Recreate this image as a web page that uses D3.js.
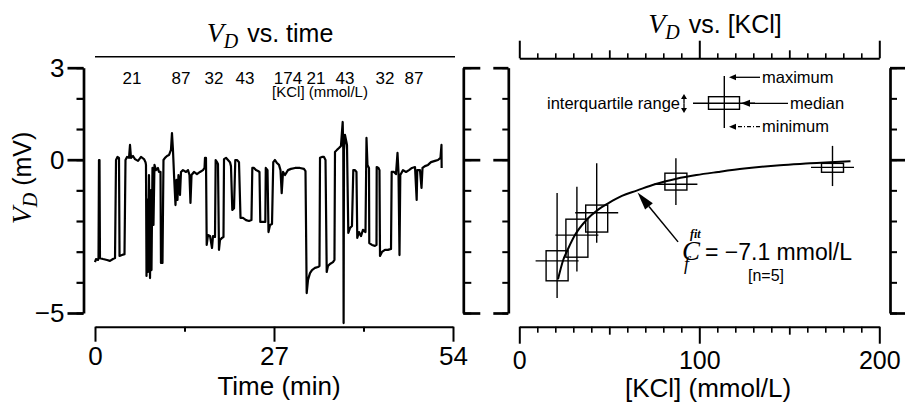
<!DOCTYPE html>
<html><head><meta charset="utf-8">
<script src="https://cdn.jsdelivr.net/npm/d3@7"></script>
<style>
body{margin:0;background:#fff;}
svg{display:block;}
text{font-family:"Liberation Sans",Arial,Helvetica,sans-serif;fill:#000;}
.it{font-family:"Liberation Serif","Times New Roman",serif;font-style:italic;}
</style></head><body>
<svg id="c" width="905" height="405"></svg>
<script>
// ---------- data ----------
const timeTicks = [0, 27, 54];
const timeMinor = [13.5, 40.5];
const vTicks = [3, 0, -5];
const vMinor = [3, 2, 1, 0, -1, -2, -3, -4, -5];
const kclTicks = [0, 100, 200];
const kclMid = [50, 150];
const kclMinor = [10,20,30,40,60,70,80,90,110,120,130,140,160,170,180,190];

const segTimes  = [5.58, 12.97, 17.95, 22.62, 29.11, 33.33, 37.71, 43.74, 48.11];
const segLabels = ["21", "87", "32", "43", "174", "21", "43", "32", "87"];

// V_D trace: [time (min), V_D (mV)]
const trace = [
[0,-3.34],[0.15,-3.24],[0.45,-3.27],[0.53,-3.21],[0.60,-0.01],[0.68,-0.01],[0.75,-3.21],[1.21,-3.24],[1.81,-3.27],[2.26,-3.30],[2.71,-3.24],[3.02,-3.21],
[3.17,-0.01],[3.39,0.09],[3.62,0.06],[3.70,-3.14],[4.07,-3.11],[4.45,-3.08],[4.60,-0.01],[4.83,0.09],[5.13,0.06],[5.28,0.48],[5.43,0.06],[5.73,0.12],
[6.03,0.02],[6.49,-0.04],[6.94,0.09],[7.39,0.02],[7.62,-0.08],[7.69,-0.17],[7.77,-3.79],[7.92,-1.31],[7.99,-3.66],[8.14,-0.50],[8.30,-3.86],[8.45,-0.99],
[8.52,-3.60],[8.67,-0.27],[8.82,-2.13],[8.97,-0.17],[9.20,-0.34],[9.50,-0.27],[9.65,-0.40],[9.88,-0.40],[9.95,-3.37],[10.11,-2.62],[10.18,-3.37],[10.33,-0.01],
[10.56,0.06],[10.86,0.12],[11.16,0.15],[11.46,0.32],[11.61,0.87],[11.76,0.32],[11.92,-0.50],[12.14,-1.48],[12.29,-0.66],[12.44,-1.31],[12.59,-0.50],[12.82,-1.15],
[12.97,-0.40],[13.27,-0.34],[13.73,-0.40],[14.03,-0.34],[14.25,-0.50],[14.40,-1.41],[14.56,-0.50],[14.93,-0.40],[15.38,-0.47],[15.84,-0.40],[16.29,-0.34],[16.52,-0.27],
[16.59,0.06],[16.74,0.06],[16.85,-2.78],[17.04,-2.46],[17.35,-2.49],[17.65,-2.88],[17.80,-2.49],[18.10,-2.52],[18.20,-0.01],[18.40,-0.08],[18.55,-0.14],[18.70,-2.94],
[18.85,-2.62],[19.16,-2.55],[19.38,-2.52],[19.46,0.02],[19.76,0.06],[20.06,-0.01],[20.36,-0.08],[20.51,-0.21],[20.71,-1.64],[20.97,-1.58],[21.16,-0.01],[21.42,-0.01],
[21.72,-0.08],[21.95,-1.90],[22.32,-1.90],[22.78,-1.97],[23.23,-2.00],[23.60,-1.97],[23.73,-0.27],[23.98,-0.27],[24.28,-0.34],[24.59,-0.37],[24.81,-0.40],[24.93,-2.03],
[25.34,-2.03],[25.69,-2.03],[25.76,-0.27],[26.02,-0.34],[26.17,-2.36],[26.40,-2.13],[26.70,-2.10],[26.89,-0.08],[27.15,-0.01],[27.45,-0.11],[27.75,-0.17],[27.98,-0.34],
[28.16,-1.09],[28.36,-0.40],[28.66,-0.50],[29.11,-0.34],[29.56,-0.30],[30.17,-0.27],[30.92,-0.27],[31.52,-0.30],[31.75,-0.37],[31.93,-4.35],[32.13,-3.92],[32.43,-3.70],
[32.73,-3.60],[33.18,-3.53],[33.63,-3.50],[33.86,-3.47],[33.94,0.06],[34.24,0.09],[34.54,0.09],[34.77,-0.01],[34.95,-3.66],[35.14,-3.47],[35.44,-3.40],[35.90,-3.34],
[36.12,-3.27],[36.20,0.25],[36.50,0.32],[36.80,0.38],[37.10,0.45],[37.36,1.23],[37.45,0.32],[37.50,-5.33],[37.56,0.32],[37.71,0.81],[37.86,0.64],[38.01,0.48],
[38.21,-2.39],[38.46,-2.23],[38.76,-2.16],[38.96,-0.34],[39.22,-0.34],[39.44,-0.40],[39.56,-2.55],[39.82,-2.36],[40.12,-2.49],[40.42,-2.29],[40.80,-2.36],[40.95,0.71],
[41.10,-0.17],[41.33,-0.27],[41.37,-2.72],[41.78,-2.78],[42.23,-2.81],[42.46,-2.78],[42.49,-0.24],[42.76,-0.27],[42.91,-0.34],[42.99,-3.14],[43.29,-3.01],[43.74,-2.94],
[44.19,-2.94],[44.65,-2.91],[44.75,-0.40],[45.10,-0.40],[45.40,-0.47],[45.63,0.22],[45.78,-0.40],[45.93,-3.11],[46.05,-0.50],[46.46,-0.34],[46.91,-0.40],[47.36,-0.34],
[47.81,-0.27],[48.27,-0.24],[48.52,-1.31],[48.61,-0.34],[49.02,-0.34],[49.25,-0.92],[49.40,-0.27],[49.77,-0.21],[50.23,-0.17],[50.68,-0.08],[51.28,-0.04],[51.73,-0.01],
[52.11,0.06],[52.26,0.48],[52.29,-0.27]
];

// box plots vs [KCl]
const boxKCl    = [21, 32, 43, 87, 174];
const boxMax    = [-1.09, -0.88, -0.12, 0.05, 0.45];
const boxQ3     = [-2.97, -1.94, -1.48, -0.44, -0.12];
const boxMedian = [-3.30, -2.46, -1.73, -0.80, -0.25];
const boxQ1     = [-3.95, -3.18, -2.36, -0.99, -0.41];
const boxMin    = [-4.51, -3.65, -2.71, -1.48, -0.86];

// fitted curve
const fitKCl = [21.5, 24.4, 27, 31, 37.4, 44, 50, 57, 65.2, 75.3, 87.3, 98.4, 110.5, 125, 144.8, 161.5, 172.6, 184];
const fitV   = [-3.90, -3.27, -2.92, -2.45, -1.96, -1.62, -1.40, -1.18, -1.01, -0.80, -0.62, -0.50, -0.40, -0.29, -0.18, -0.12, -0.08, -0.05];

// annotation arrow (data units): tip on curve, tail near label
const arrowTip  = [65.7, -1.07];
const arrowTail = [88.2, -2.68];

// ---------- drawing ----------
const svg = d3.select("#c");
svg.append("rect").attr("width",905).attr("height",405).attr("fill","#fff");

const xT = d3.scaleLinear().domain([0, 54]).range([95, 453]);
const yV = d3.scaleLinear().domain([-5, 3]).range([313, 67.7]);
const xK = d3.scaleLinear().domain([0, 200]).range([519.3, 879.3]);

function drawAxis(gen, tx, ty, sw, fs, keepDomain) {
  const g = svg.append("g").attr("transform", `translate(${tx},${ty})`).call(gen);
  g.attr("font-family", null).attr("font-size", null);
  g.selectAll("path,line").attr("stroke", "#000").attr("stroke-width", sw);
  g.selectAll("text").style("font-size", fs + "px").attr("fill", "#000");
  if (!keepDomain) g.select(".domain").remove();
  return g;
}
const noLab = () => "";

// left y axis
drawAxis(d3.axisLeft(yV).tickValues(vTicks).tickSize(16).tickSizeOuter(0).tickPadding(3), 83.5, 0, 2.7, 26, true);
drawAxis(d3.axisLeft(yV).tickValues(vMinor).tickSize(7).tickFormat(noLab), 83.5, 0, 2.2, 10, false);

// left bottom time axis
drawAxis(d3.axisBottom(xT).tickValues(timeTicks).tickSize(15).tickSizeOuter(0).tickPadding(5), 0, 326.7, 2, 26, true);
drawAxis(d3.axisBottom(xT).tickValues(timeMinor).tickSize(5).tickFormat(noLab), 0, 326.7, 2, 10, false);

// left top line
svg.append("line").attr("x1", xT(0)).attr("x2", xT(54) + 2).attr("y1", 56.7).attr("y2", 56.7)
  .attr("stroke", "#000").attr("stroke-width", 1.4);

// bracket axes (y)
drawAxis(d3.axisRight(yV).tickValues(vTicks).tickSize(17).tickSizeOuter(0).tickFormat(noLab), 463.3, 0, 2.7, 10, true);
drawAxis(d3.axisRight(yV).tickValues(vMinor).tickSize(8).tickFormat(noLab), 463.3, 0, 2, 10, false);
drawAxis(d3.axisLeft(yV).tickValues(vTicks).tickSize(15).tickSizeOuter(0).tickFormat(noLab), 508.3, 0, 2.7, 10, true);
drawAxis(d3.axisLeft(yV).tickValues(vMinor).tickSize(6).tickFormat(noLab), 508.3, 0, 2, 10, false);
drawAxis(d3.axisRight(yV).tickValues(vTicks).tickSize(16).tickSizeOuter(0).tickFormat(noLab), 890, 0, 2.7, 10, true);
drawAxis(d3.axisRight(yV).tickValues(vMinor).tickSize(7).tickFormat(noLab), 890, 0, 2, 10, false);

// right bottom KCl axis
drawAxis(d3.axisBottom(xK).tickValues(kclTicks).tickSize(17).tickSizeOuter(0).tickPadding(8), 0, 326.7, 2, 25, true);
drawAxis(d3.axisBottom(xK).tickValues(kclMid).tickSize(8).tickFormat(noLab), 0, 326.7, 1.8, 10, false);
drawAxis(d3.axisBottom(xK).tickValues(kclMinor).tickSize(6).tickFormat(noLab), 0, 326.7, 1.6, 10, false);
// right top axis
drawAxis(d3.axisTop(xK).tickValues(kclTicks).tickSize(17.6).tickSizeOuter(0).tickFormat(noLab), 0, 58.3, 2, 10, true);
drawAxis(d3.axisTop(xK).tickValues(kclMid).tickSize(8).tickFormat(noLab), 0, 58.3, 1.8, 10, false);
drawAxis(d3.axisTop(xK).tickValues(kclMinor).tickSize(5).tickFormat(noLab), 0, 58.3, 1.6, 10, false);

// trace
svg.append("path").datum(trace)
  .attr("d", d3.line().x(d => xT(d[0])).y(d => yV(d[1])))
  .attr("fill", "none").attr("stroke", "#000").attr("stroke-width", 2.2)
  .attr("stroke-linejoin", "round");

// concentration labels
svg.append("g").selectAll("text").data(segTimes).join("text")
  .attr("x", d => xT(d)).attr("y", 84).attr("text-anchor", "middle")
  .style("font-size", "17px").text((d, i) => segLabels[i]);
svg.append("text").attr("x", 320).attr("y", 97).attr("text-anchor", "middle")
  .style("font-size", "15px").text("[KCl] (mmol/L)");

// titles
function title(x, y, rest) {
  const t = svg.append("text").attr("x", x).attr("y", y).attr("text-anchor", "middle");
  t.append("tspan").attr("class", "it").style("font-size", "28px").text("V");
  t.append("tspan").attr("class", "it").style("font-size", "20px").attr("dy", 6).text("D");
  t.append("tspan").style("font-size", "25px").attr("dy", -6).attr("dx", 9).text(rest);
}
title(270, 41.7, "vs. time");
title(715, 33.3, "vs. [KCl]");

// axis titles
svg.append("text").attr("x", 279).attr("y", 395).attr("text-anchor", "middle")
  .style("font-size", "26px").text("Time (min)");
svg.append("text").attr("x", 708).attr("y", 397).attr("text-anchor", "middle")
  .style("font-size", "26px").text("[KCl] (mmol/L)");
const yt = svg.append("text").attr("transform", "translate(31,178) rotate(-90)").attr("text-anchor", "middle");
yt.append("tspan").attr("class", "it").style("font-size", "28px").text("V");
yt.append("tspan").attr("class", "it").style("font-size", "20px").attr("dy", 6).text("D");
yt.append("tspan").style("font-size", "25px").attr("dy", -6).attr("dx", 7).text("(mV)");

// box plots
const bp = svg.append("g").attr("stroke", "#000").attr("fill", "none").attr("stroke-width", 1.4);
boxKCl.forEach((k, i) => {
  const cx = xK(k);
  bp.append("line").attr("x1", cx).attr("x2", cx).attr("y1", yV(boxMax[i])).attr("y2", yV(boxMin[i]));
  bp.append("rect").attr("x", cx - 11).attr("width", 22)
    .attr("y", yV(boxQ3[i])).attr("height", yV(boxQ1[i]) - yV(boxQ3[i]));
  bp.append("line").attr("x1", cx - 21.5).attr("x2", cx + 21.5).attr("y1", yV(boxMedian[i])).attr("y2", yV(boxMedian[i]));
});

// fit curve
svg.append("path").datum(fitKCl.map((k, i) => [k, fitV[i]]))
  .attr("d", d3.line().curve(d3.curveMonotoneX).x(d => xK(d[0])).y(d => yV(d[1])))
  .attr("fill", "none").attr("stroke", "#000").attr("stroke-width", 2);

// arrow helper
function arrow(x1, y1, x2, y2, len, hw, sw, dash) {
  const dx = x1 - x2, dy = y1 - y2, L = Math.hypot(dx, dy), ux = dx / L, uy = dy / L;
  const bx = x2 + ux * len, by = y2 + uy * len;
  const l = svg.append("line").attr("x1", x1).attr("y1", y1).attr("x2", bx).attr("y2", by)
    .attr("stroke", "#000").attr("stroke-width", sw);
  if (dash) l.attr("stroke-dasharray", dash);
  svg.append("polygon").attr("points",
    [[x2, y2], [bx - uy * hw, by + ux * hw], [bx + uy * hw, by - ux * hw]].map(p => p.join(",")).join(" "))
    .attr("fill", "#000");
}
arrow(xK(arrowTail[0]), yV(arrowTail[1]), xK(arrowTip[0]), yV(arrowTip[1]), 18, 5, 1.5);

// C_f^fit label (one text element with stacked super/subscript)
const cf = svg.append("text").attr("class", "it").attr("x", 682).attr("y", 260);
cf.append("tspan").style("font-size", "27px").text("C");
cf.append("tspan").attr("x", 690).attr("y", 238).style("font-size", "12px").style("font-weight", "bold").text("fit");
cf.append("tspan").attr("x", 684).attr("y", 270).style("font-size", "18px").text("f");
svg.append("text").attr("x", 705).attr("y", 260).style("font-size", "23px").text("= \u22127.1 mmol/L");
svg.append("text").attr("x", 748).attr("y", 281).style("font-size", "16px").text("[n=5]");

// legend
const lg = svg.append("g").attr("stroke", "#000").attr("fill", "none").attr("stroke-width", 1.4);
lg.append("line").attr("x1", 724.3).attr("x2", 724.3).attr("y1", 76).attr("y2", 128);
lg.append("rect").attr("x", 708.5).attr("y", 96.7).attr("width", 31).attr("height", 12.6);
lg.append("line").attr("x1", 693).attr("x2", 755).attr("y1", 103.3).attr("y2", 103.3);
arrow(760, 77.3, 729, 77.3, 7, 3, 1.3);
arrow(788, 103.3, 741, 103.3, 9, 3.5, 1.3);
arrow(760, 126.7, 729, 126.7, 7, 3, 1.3, "4,2,1,2");
arrow(684, 103.5, 684, 94, 5, 3, 1.3);
arrow(684, 103.5, 684, 113, 5, 3, 1.3);
svg.append("text").attr("x", 762).attr("y", 83).style("font-size", "16.5px").text("maximum");
svg.append("text").attr("x", 790).attr("y", 109).style("font-size", "16.5px").text("median");
svg.append("text").attr("x", 762).attr("y", 132).style("font-size", "16.5px").text("minimum");
svg.append("text").attr("x", 680).attr("y", 109).attr("text-anchor", "end").style("font-size", "16.5px").text("interquartile range");
</script>
</body></html>
